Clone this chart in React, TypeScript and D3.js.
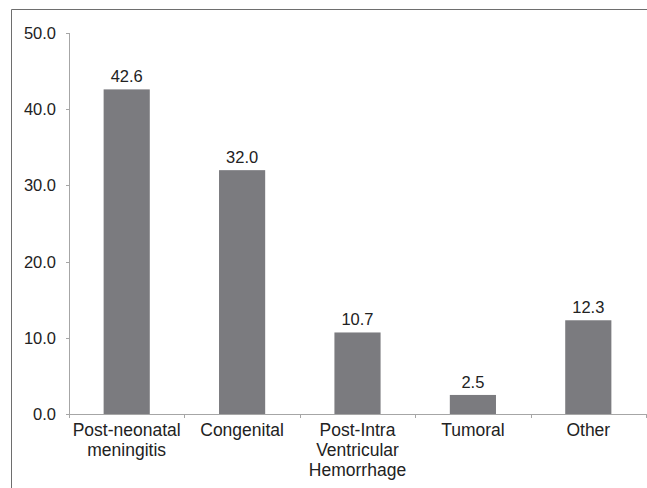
import * as React from "react"
import * as d3 from "d3"

const categories = [
  ["Post-neonatal", "meningitis"],
  ["Congenital"],
  ["Post-Intra", "Ventricular", "Hemorrhage"],
  ["Tumoral"],
  ["Other"],
]
const values = [42.6, 32.0, 10.7, 2.5, 12.3]
const yTicks = [0, 10, 20, 30, 40, 50]

const width = 647
const height = 488
const margin = { top: 33, right: 1, bottom: 74, left: 69 }
const font = "'Liberation Sans', Arial, sans-serif"
const barColor = "#7b7b7f"
const axisColor = "#a6a6a6"

export default function App(): React.JSX.Element {
  const h = height - margin.top - margin.bottom
  const keys = categories.map((_c, i) => String(i))

  const x = d3
    .scaleBand()
    .domain(keys)
    .range([margin.left, width - margin.right])
    .paddingInner(0.6)
    .paddingOuter(0.3)
  const band = d3.scaleBand().domain(keys).range([margin.left, width - margin.right])
  const y = d3.scaleLinear().domain([0, 50]).range([margin.top + h, margin.top])

  return (
    <svg
      width={width}
      height={height}
      style={{ position: "absolute", left: 0, top: 0, background: "#fff" }}
      fontFamily={font}
    >
      <path d={`M11.5,${height + 2}V9.5H${width + 2}`} fill="none" stroke="#6e6e6e" />

      {/* y axis */}
      <line x1={margin.left + 0.5} x2={margin.left + 0.5} y1={y(50)} y2={y(0)} stroke={axisColor} />
      {yTicks.map((t) => (
        <g key={t} transform={`translate(0,${Math.round(y(t)) + 0.5})`}>
          <line x1={margin.left - 3} x2={margin.left + 0.5} stroke={axisColor} />
          <text x={56} dy="0.35em" textAnchor="end" fontSize={16.5} fill="#222">
            {d3.format(".1f")(t)}
          </text>
        </g>
      ))}

      {/* bars */}
      {values.map((v, i) => (
        <g key={i}>
          <rect
            x={x(String(i))}
            y={y(v)}
            width={x.bandwidth()}
            height={y(0) - y(v)}
            fill={barColor}
          />
          <text
            x={(x(String(i)) as number) + x.bandwidth() / 2}
            y={y(v) - 7}
            textAnchor="middle"
            fontSize={16.5}
            fill="#222"
          >
            {d3.format(".1f")(v)}
          </text>
        </g>
      ))}

      {/* x axis */}
      <line
        x1={margin.left}
        x2={width}
        y1={Math.round(y(0)) + 0.5}
        y2={Math.round(y(0)) + 0.5}
        stroke={axisColor}
      />
      {[...keys.map((k) => band(k) as number), width - margin.right].map((tx, i) => (
        <line
          key={i}
          x1={Math.round(tx) + 0.5}
          x2={Math.round(tx) + 0.5}
          y1={y(0)}
          y2={y(0) + 4}
          stroke={axisColor}
        />
      ))}
      {categories.map((lines, i) => (
        <text
          key={i}
          x={(band(String(i)) as number) + band.bandwidth() / 2}
          y={y(0) + 22}
          textAnchor="middle"
          fontSize={17.5}
          fill="#222"
        >
          {lines.map((l, j) => (
            <tspan key={j} x={(band(String(i)) as number) + band.bandwidth() / 2} dy={j === 0 ? 0 : 20}>
              {l}
            </tspan>
          ))}
        </text>
      ))}
    </svg>
  )
}
